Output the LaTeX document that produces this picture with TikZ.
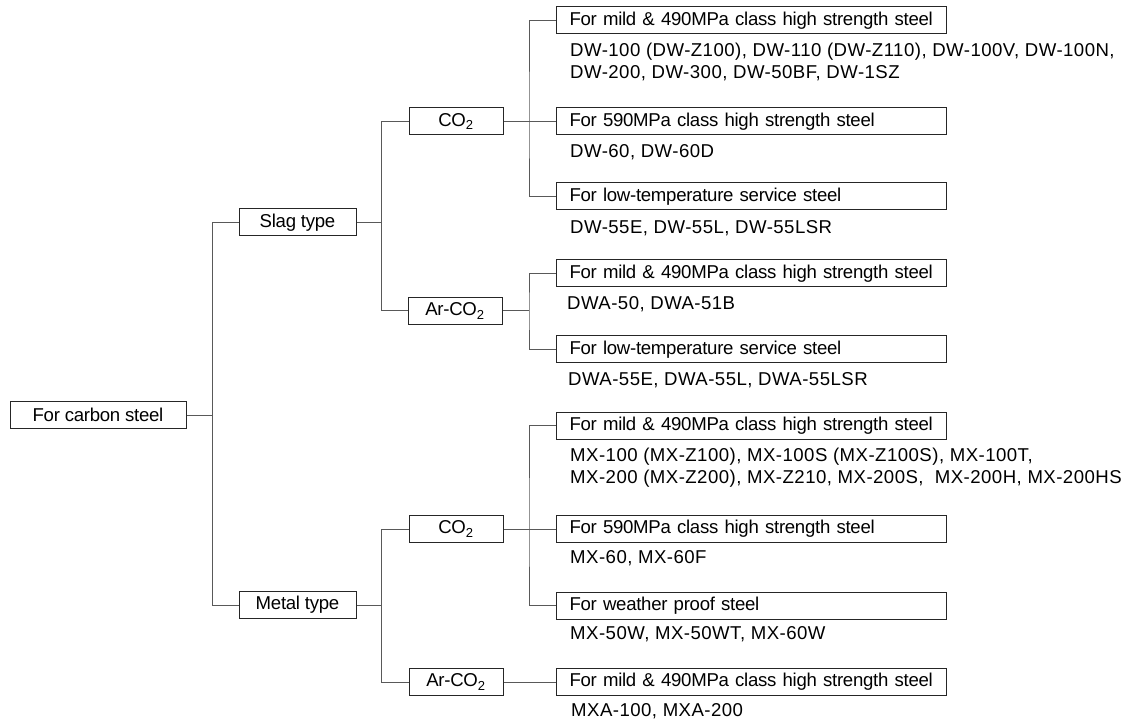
\documentclass[tikz,border=0pt]{standalone}
\usepackage{fontspec}
\setmainfont{Liberation Sans}
\newfontfamily\boxfont[LetterSpace=-1.5]{Liberation Sans}
\newfontfamily\listfont[LetterSpace=2.5]{Liberation Sans}
\begin{document}
\begin{tikzpicture}[x=1pt, y=-1pt,
        cbox/.style={draw=black!85, line width=1pt, minimum height=27pt, inner sep=0pt,
            font=\boxfont\fontsize{18.6}{22}\selectfont},
        leaf/.style={cbox, anchor=west, minimum width=390pt, text width=364pt, inner xsep=13pt, align=left},
        list/.style={anchor=west, inner sep=0pt, align=left, font=\listfont\fontsize{18.6}{22}\selectfont},
        link/.style={draw=black!65, line width=1pt}]
    \useasboundingbox (0,0) rectangle (1125,719);

    % left part of the tree
    \node[cbox, minimum width=176pt] (root) at (98,415) {For carbon steel};
    \node[cbox, minimum width=117pt] (slag) at (297.5,222.5) {Slag type};
    \node[cbox, minimum width=117pt] (metal) at (297.5,605) {Metal type};
    \node[cbox, minimum width=94pt] (co2a) at (456,121.5) {CO\textsubscript{2}};
    \node[cbox, minimum width=94pt] (arco2a) at (455,311) {Ar-CO\textsubscript{2}};
    \node[cbox, minimum width=94pt] (co2b) at (456,529) {CO\textsubscript{2}};
    \node[cbox, minimum width=94pt] (arco2b) at (456,682) {Ar-CO\textsubscript{2}};

    % slag type
    \node[leaf] (leafa1) at (556,20.2) {For mild \& 490MPa class high strength steel};
    \node[list] (lista1) at (570,61.7) {DW-100 (DW-Z100), DW-110 (DW-Z110), DW-100V, DW-100N,\\DW-200, DW-300, DW-50BF, DW-1SZ};
    \node[leaf] (leafa2) at (556,121.5) {For 590MPa class high strength steel};
    \node[list] (lista2) at (570,151.7) {DW-60, DW-60D};
    \node[leaf] (leafa3) at (556,196.5) {For low-temperature service steel};
    \node[list] (lista3) at (570,228) {DW-55E, DW-55L, DW-55LSR};
    \node[leaf] (leafa4) at (556,273.3) {For mild \& 490MPa class high strength steel};
    \node[list] (lista4) at (567,304) {DWA-50, DWA-51B};
    \node[leaf] (leafa5) at (556,349.3) {For low-temperature service steel};
    \node[list] (lista5) at (568,380) {DWA-55E, DWA-55L, DWA-55LSR};

    % metal type
    \node[leaf] (leafb1) at (556,425.7) {For mild \& 490MPa class high strength steel};
    \node[list] (listb1) at (570,467.5) {MX-100 (MX-Z100), MX-100S (MX-Z100S), MX-100T,\\MX-200 (MX-Z200), MX-Z210, MX-200S,\ \ MX-200H, MX-200HS};
    \node[leaf] (leafb2) at (556,529) {For 590MPa class high strength steel};
    \node[list] (listb2) at (570,558.3) {MX-60, MX-60F};
    \node[leaf] (leafb3) at (556,605.7) {For weather proof steel};
    \node[list] (listb3) at (570,634) {MX-50W, MX-50WT, MX-60W};
    \node[leaf] (leafb4) at (556,682) {For mild \& 490MPa class high strength steel};
    \node[list] (listb4) at (571,711) {MXA-100, MXA-200};

    \coordinate (j0) at (212.5,415);
    \coordinate (j1) at (381.5,222.5);
    \coordinate (j2) at (529,121.5);
    \coordinate (j3) at (529,311);
    \coordinate (j4) at (381.5,605);
    \coordinate (j5) at (529,529);

    \draw[link] (root) -- (j0);
    \draw[link] (slag.west) -| (j0) |- (metal.west);
    \draw[link] (slag) -- (j1);
    \draw[link] (co2a.west) -| (j1) |- (arco2a.west);
    \draw[link] (co2a) -- (leafa2);
    \draw[link] (leafa1.west) -| (j2) |- (leafa3.west);
    \draw[link] (arco2a) -- (j3);
    \draw[link] (leafa4.west) -| (j3) |- (leafa5.west);
    \draw[link] (metal) -- (j4);
    \draw[link] (co2b.west) -| (j4) |- (arco2b.west);
    \draw[link] (co2b) -- (leafb2);
    \draw[link] (leafb1.west) -| (j5) |- (leafb3.west);
    \draw[link] (arco2b) -- (leafb4);
\end{tikzpicture}
\end{document}
